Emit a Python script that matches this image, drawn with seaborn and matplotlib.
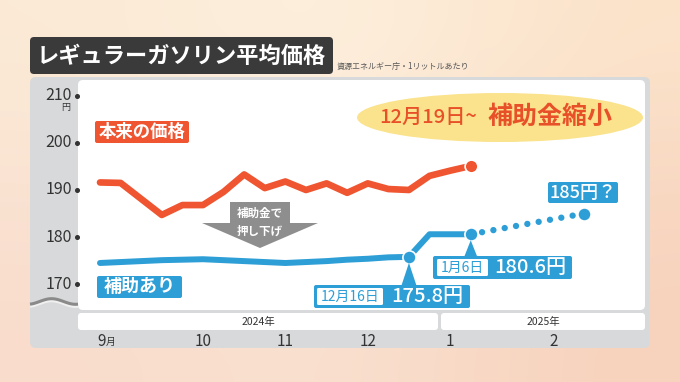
import numpy as np
import pandas as pd
import matplotlib
matplotlib.use("Agg")
import matplotlib.pyplot as plt
import seaborn as sns
from matplotlib.patches import FancyBboxPatch, Polygon, Ellipse
from matplotlib.colors import to_rgb

# ---------------- data ----------------
weeks = list(range(19))  # weekly, starting 2024-09-02
original_price = [191.6, 191.5, 188.1, 184.7, 186.8, 186.8, 189.6, 193.3, 190.4, 191.8,
                  190.0, 191.4, 189.4, 191.4, 190.2, 190.0, 193.0, 194.1, 195.1]
subsidized_price = [174.5, 174.7, 174.9, 175.1, 175.2, 175.3, 175.1, 174.9, 174.7, 174.5,
                    174.7, 174.9, 175.2, 175.4, 175.7, 175.8, 180.6, 180.6, 180.6]
proj_weeks = [18, 23.5]
proj_price = [180.6, 185.0]
marker_weeks = [15, 18, 23.5]
marker_price = [175.8, 180.6, 185.0]
y_ticks = [170, 180, 190, 200, 210]
month_pos = [0, 5, 9, 13, 17, 22]
month_labels = ["9", "10", "11", "12", "1", "2"]
year_labels = ["2024年", "2025年"]

RED = "#EF5530"
BLUE = "#2D9ED6"
GRAY_PANEL = "#D8D9DA"
W, H = 680, 382

sns.set_theme(style="white")
plt.rcParams['font.family'] = ['Noto Sans CJK JP', 'DejaVu Sans']

fig = plt.figure(figsize=(6.8, 3.82), dpi=100)

# ---------------- background ----------------
bg = fig.add_axes([0, 0, 1, 1], zorder=0)
bg.set_xlim(0, W); bg.set_ylim(H, 0); bg.axis('off')
grid = np.array([[to_rgb("#FBEAD5"), to_rgb("#FDF2E0"), to_rgb("#FCE3CA")],
                 [to_rgb("#FAE2D2"), to_rgb("#FBE8DA"), to_rgb("#F8D6C0")],
                 [to_rgb("#F9DCCB"), to_rgb("#FAE2D2"), to_rgb("#F7D2BC")]])
bg.imshow(grid, extent=(0, W, H, 0), interpolation='bicubic', aspect='auto', zorder=0)

def rbox(ax, x0, y0, x1, y1, color, r=3, z=1, ec='none', lw=0):
    p = FancyBboxPatch((x0 + r, y0 + r), (x1 - x0) - 2 * r, (y1 - y0) - 2 * r,
                       boxstyle=f"round,pad={r}", fc=color, ec=ec, lw=lw, zorder=z)
    ax.add_patch(p)
    return p

rbox(bg, 30, 77, 650, 348, GRAY_PANEL, r=6, z=1)
rbox(bg, 78, 80, 645, 310, "white", r=5, z=2)
rbox(bg, 78, 313, 438, 330, "white", r=3, z=2)
rbox(bg, 441, 313, 645, 330, "white", r=3, z=2)

# ---------------- data axes ----------------
ax = fig.add_axes([78 / W, 1 - 310 / H, 567 / W, 230 / H], zorder=1)
ax.patch.set_visible(False)
ax.axis('off')
ax.set_xlim(-1.068, 26.46)
ax.set_ylim(164.52, 213.35)

df = pd.DataFrame({"week": weeks, "original": original_price, "subsidized": subsidized_price})
sns.lineplot(data=df, x="week", y="original", ax=ax, color=RED, lw=4.8,
             solid_capstyle='round', solid_joinstyle='round', zorder=3)
sns.lineplot(data=df, x="week", y="subsidized", ax=ax, color=BLUE, lw=4.3,
             solid_capstyle='round', solid_joinstyle='round', zorder=3)
sns.lineplot(x=proj_weeks, y=proj_price, ax=ax, color=BLUE, lw=4.6,
             linestyle=(0, (0.001, 1.8)), dash_capstyle='round', zorder=3)
sns.scatterplot(x=[weeks[-1]], y=[original_price[-1]], ax=ax, s=85, color=RED,
                edgecolor='white', linewidth=1.2, zorder=4)
sns.scatterplot(x=marker_weeks, y=marker_price, ax=ax, s=90, color=BLUE,
                edgecolor='white', linewidth=1.2, zorder=4)

# ---------------- overlay (pixel coordinates) ----------------
ov = fig.add_axes([0, 0, 1, 1], zorder=2)
ov.set_xlim(0, W); ov.set_ylim(H, 0); ov.axis('off')
ov.patch.set_visible(False)

def to_px(x, y):
    return ov.transData.inverted().transform(ax.transData.transform((x, y)))

# title
rbox(ov, 30, 37, 333, 74, "#3A3A3A", r=4, z=2)
ov.text(37, 56, "レギュラーガソリン平均価格", color="white", fontsize=16, fontweight='bold',
        ha='left', va='center', zorder=3)
ov.text(337, 66, "資源エネルギー庁・1リットルあたり", color="#555555", fontsize=5.8,
        ha='left', va='center', zorder=3)

# y ticks
for v in y_ticks:
    _, py = to_px(0, v)
    ov.text(72, py, str(v), ha='right', va='center', fontsize=11.5, color="#333333", zorder=3)
    ov.plot([77], [py], 'o', ms=2.6, color="#333333", zorder=3)
_, p210 = to_px(0, 210)
ov.text(66, p210 + 12, "円", ha='center', va='center', fontsize=6.5, color="#333333", zorder=3)

# axis-break squiggle
xs = np.linspace(30, 78, 60)
ys = 301.5 + 2.8 * np.sin((xs - 30) / 48 * 2 * np.pi + np.pi * 0.6)
ov.plot(xs, ys + 2.2, color="#F0F0F0", lw=2, zorder=2, solid_capstyle='butt')
ov.plot(xs, ys, color="#8A8A8A", lw=2.2, zorder=2, solid_capstyle='butt')

# year labels
ov.text(258, 322, year_labels[0], ha='center', va='center', fontsize=7.5, color="#333333", zorder=3)
ov.text(543, 322, year_labels[1], ha='center', va='center', fontsize=7.5, color="#333333", zorder=3)

# month labels
for m, lab in zip(month_pos, month_labels):
    px, _ = to_px(m, 170)
    if lab == "9":
        ov.text(px + 2, 341, lab, ha='center', va='center', fontsize=11, color="#333333", zorder=3)
        ov.text(px + 11, 342, "月", ha='center', va='center', fontsize=7, color="#333333", zorder=3)
    else:
        ov.text(px, 341, lab, ha='center', va='center', fontsize=11, color="#333333", zorder=3)

# series labels
rbox(ov, 95, 121, 189, 143, RED, r=2, z=2)
ov.text(142, 132, "本来の価格", color="white", fontsize=12.5, fontweight='bold',
        ha='center', va='center', zorder=3)
rbox(ov, 97, 276, 182, 298, BLUE, r=2, z=2)
ov.text(139.5, 287, "補助あり", color="white", fontsize=13, fontweight='bold',
        ha='center', va='center', zorder=3)

# yellow ellipse
ov.add_patch(Ellipse((500, 117.5), 286, 49, fc="#FAE38C", ec='none', zorder=2))
ov.text(477, 117.5, "12月19日~", color="#E8502A", fontsize=14.5, fontweight='medium',
        ha='right', va='center', zorder=3)
ov.text(488, 117, "補助金縮小", color="#E8502A", fontsize=18, fontweight='bold',
        ha='left', va='center', zorder=3)

# gray arrow
ARW = "#8E8E8E"
ov.add_patch(Polygon([(230, 202), (290, 202), (290, 223), (318, 223), (260, 248),
                      (202, 223), (230, 223)], closed=True, fc=ARW, ec='none', zorder=2))
ov.text(260, 213, "補助金で", color="white", fontsize=8.3, fontweight='bold',
        ha='center', va='center', zorder=3)
ov.text(260, 231, "押し下げ", color="white", fontsize=8.3, fontweight='bold',
        ha='center', va='center', zorder=3)

# callout 12/16
mx, my = to_px(marker_weeks[0], marker_price[0])
ov.add_patch(Polygon([(mx - 8, 287), (mx + 8, 287), (mx, my + 6)], closed=True,
                     fc=BLUE, ec='none', zorder=2))
rbox(ov, 314, 285, 470, 308, BLUE, r=2, z=2)
rbox(ov, 317, 288, 383, 305, "white", r=1.5, z=2.5)
ov.text(350, 296.5, "12月16日", color=BLUE, fontsize=10, ha='center', va='center', zorder=3)
ov.text(427, 296.5, "175.8円", color="white", fontsize=14.5, fontweight='medium',
        ha='center', va='center', zorder=3)

# callout 1/6
mx, my = to_px(marker_weeks[1], marker_price[1])
ov.add_patch(Polygon([(mx - 7, 258), (mx + 7, 258), (mx, my + 6)], closed=True,
                     fc=BLUE, ec='none', zorder=2))
rbox(ov, 433, 256, 572, 279, BLUE, r=2, z=2)
rbox(ov, 437, 259, 488, 276, "white", r=1.5, z=2.5)
ov.text(462.5, 267.5, "1月6日", color=BLUE, fontsize=10, ha='center', va='center', zorder=3)
ov.text(530, 267.5, "180.6円", color="white", fontsize=14.5, fontweight='medium',
        ha='center', va='center', zorder=3)

# projected label
rbox(ov, 548, 182, 618, 203, BLUE, r=2, z=2)
ov.text(583, 192.5, "185円？", color="white", fontsize=13, fontweight='medium',
        ha='center', va='center', zorder=3)

fig.savefig("out.png", dpi=100)
